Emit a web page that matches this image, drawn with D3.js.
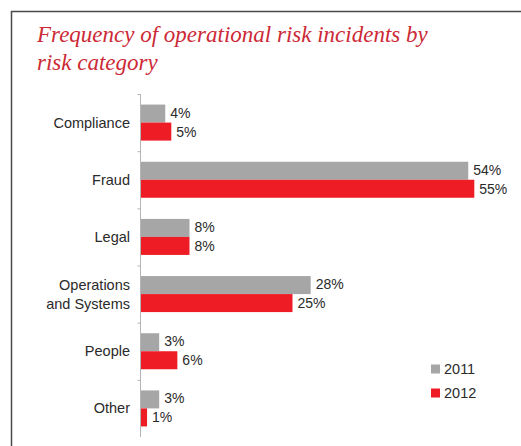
<!DOCTYPE html>
<html>
<head>
<meta charset="utf-8">
<script src="https://cdn.jsdelivr.net/npm/d3@7/dist/d3.min.js"></script>
<style>
  html, body { margin: 0; padding: 0; background: #fff; }
  svg { display: block; }
</style>
</head>
<body>
<svg id="chart" width="521" height="446"></svg>
<script>
// Risk categories, top to bottom
const categories = ["Compliance", "Fraud", "Legal", "Operations\nand Systems", "People", "Other"];
// Share of incidents (%) per year
const values2011 = [4, 54, 8, 28, 3, 3];
const values2012 = [5, 55, 8, 25, 6, 1];
const years = ["2011", "2012"];
const titleLines = ["Frequency of operational risk incidents by", "risk category"];

const colors = { "2011": "#a6a6a6", "2012": "#ee1c24" };
const sans = "'Liberation Sans', Arial, sans-serif";

const svg = d3.select("#chart");

// Frame: top and left rules
svg.append("line").attr("x1", 11).attr("x2", 521).attr("y1", 11.5).attr("y2", 11.5)
  .attr("stroke", "#4a4a4a").attr("stroke-width", 1.5);
svg.append("line").attr("x1", 11.5).attr("x2", 11.5).attr("y1", 11).attr("y2", 446)
  .attr("stroke", "#4a4a4a").attr("stroke-width", 1.5);

// Title
const title = svg.append("text")
  .attr("x", 37).attr("y", 42)
  .attr("font-family", "'Liberation Serif', 'DejaVu Serif', serif")
  .attr("font-style", "italic")
  .attr("font-size", 23)
  .attr("fill", "#cc2a36");
titleLines.forEach((t, i) => {
  title.append("tspan").attr("x", 37).attr("dy", i === 0 ? 0 : 28).text(t);
});

// Scales
const x = d3.scaleLinear().domain([0, 60]).range([140, 140 + 60 * 6.06]);
const y = d3.scaleBand().domain(categories).range([94, 437]).paddingInner(0.37).paddingOuter(0.185);
const sub = d3.scaleBand().domain(years).range([0, y.bandwidth()]);

// Category axis with ticks at band boundaries
const axisG = svg.append("g").attr("transform", "translate(140.5,0)");
axisG.append("line").attr("y1", 94).attr("y2", 437).attr("stroke", "#b5b5b5").attr("stroke-width", 1);
const step = y.step();
const bounds = d3.range(categories.length).map(i => 94 + i * step);
axisG.selectAll("line.tick").data(bounds).join("line")
  .attr("class", "tick")
  .attr("x1", -3).attr("x2", 0)
  .attr("y1", d => d + 0.5).attr("y2", d => d + 0.5)
  .attr("stroke", "#b5b5b5");

// Category labels
const labels = svg.append("g")
  .attr("font-family", sans)
  .attr("font-size", 14.5)
  .attr("fill", "#2a2a2a")
  .attr("text-anchor", "end");
categories.forEach(c => {
  const lines = c.split("\n");
  const cy = y(c) + y.bandwidth() / 2;
  const lh = 19;
  const t = labels.append("text").attr("x", 130).attr("y", cy - (lines.length - 1) * lh / 2 + 5);
  lines.forEach((l, i) => t.append("tspan").attr("x", 130).attr("dy", i === 0 ? 0 : lh).text(l));
});

// Bars and value labels
const series = [
  { year: "2011", values: values2011 },
  { year: "2012", values: values2012 }
];
series.forEach(s => {
  const g = svg.append("g");
  const data = categories.map((c, i) => ({ c, v: s.values[i] }));
  g.selectAll("rect").data(data).join("rect")
    .attr("x", x(0) + 1)
    .attr("y", d => y(d.c) + sub(s.year))
    .attr("width", d => x(d.v) - x(0))
    .attr("height", sub.bandwidth())
    .attr("fill", colors[s.year]);
  g.selectAll("text").data(data).join("text")
    .attr("x", d => x(d.v) + 6)
    .attr("y", d => y(d.c) + sub(s.year) + sub.bandwidth() / 2 + 5 - (s.year === "2011" ? 1 : 0))
    .attr("font-family", sans)
    .attr("font-size", 14)
    .attr("fill", "#2a2a2a")
    .text(d => d.v + "%");
});

// Legend
const legend = svg.append("g")
  .attr("font-family", sans)
  .attr("font-size", 14.5)
  .attr("fill", "#2a2a2a");
years.forEach((yr, i) => {
  const cy = 369 + i * 24;
  legend.append("rect").attr("x", 431).attr("y", cy - 4.5).attr("width", 9).attr("height", 9).attr("fill", colors[yr]);
  legend.append("text").attr("x", 444).attr("y", cy + 5).text(yr);
});
</script>
</body>
</html>
